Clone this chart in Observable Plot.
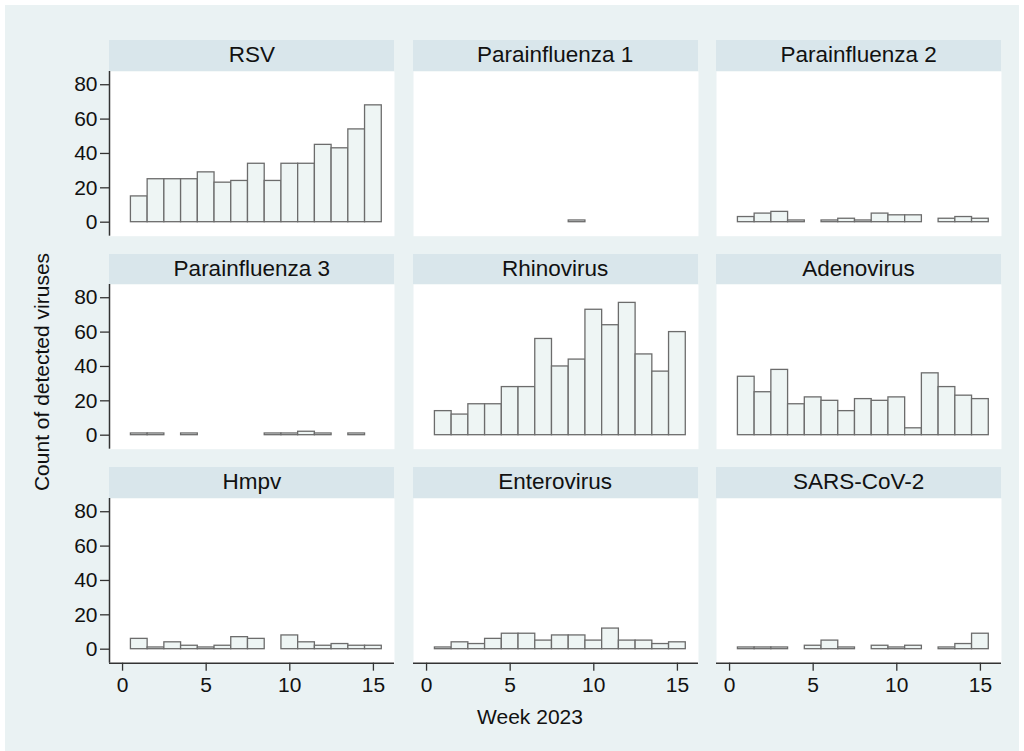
<!DOCTYPE html>
<html>
<head>
<meta charset="utf-8">
<script src="https://cdn.jsdelivr.net/npm/d3@7"></script>
<script src="https://cdn.jsdelivr.net/npm/@observablehq/plot@0.6"></script>
<style>
  html, body { margin: 0; padding: 0; background: #ffffff; }
  #root { position: relative; width: 1024px; height: 751px; overflow: hidden; font-family: "Liberation Sans", Arial, Helvetica, sans-serif; color: #111; }
  #bg { position: absolute; left: 5px; top: 5px; width: 1014px; height: 746px; background: #eaf2f3; }
  .strip { position: absolute; background: #d9e6eb; text-align: center; font-size: 22.5px; color: #111; }
  .panel { position: absolute; }
  .ytitle { position: absolute; font-size: 21px; white-space: nowrap; transform: translate(-50%, -50%) rotate(-90deg); }
  .xtitle { position: absolute; font-size: 21px; white-space: nowrap; transform: translate(-50%, -50%); }
</style>
</head>
<body>
<div id="root"><div id="bg"></div></div>
<script>
// ---- data ----
const weeks = [1,2,3,4,5,6,7,8,9,10,11,12,13,14,15];
const viruses = ["RSV","Parainfluenza 1","Parainfluenza 2","Parainfluenza 3","Rhinovirus","Adenovirus","Hmpv","Enterovirus","SARS-CoV-2"];
const rsv      = [15,25,25,25,29,23,24,34,24,34,34,45,43,54,68];
const para1    = [0,0,0,0,0,0,0,0,1,0,0,0,0,0,0];
const para2    = [3,5,6,1,0,1,2,1,5,4,4,0,2,3,2];
const para3    = [1,1,0,1,0,0,0,0,1,1,2,1,0,1,0];
const rhino    = [14,12,18,18,28,28,56,40,44,73,64,77,47,37,60];
const adeno    = [34,25,38,18,22,20,14,21,20,22,4,36,28,23,21];
const hmpv     = [6,1,4,2,1,2,7,6,0,8,4,2,3,2,2];
const entero   = [1,4,3,6,9,9,5,8,8,5,12,5,5,3,4];
const sars     = [1,1,1,0,2,5,1,0,2,1,2,0,1,3,9];
const series = [rsv, para1, para2, para3, rhino, adeno, hmpv, entero, sars];
const yTicks = [0,20,40,60,80];
const xTicks = [0,5,10,15];
const yTitle = "Count of detected viruses";
const xTitle = "Week 2023";

// ---- layout ----
const root = document.getElementById("root");
const font = '"Liberation Sans", Arial, Helvetica, sans-serif';
const colLeft = [109.3, 412.7, 716.1];
const rowTop = [40.3, 253.6, 466.9];
const plotW = 285, plotH = 164.7, stripH = 30.7;
const xDom = [-0.78, 16.26];
const yDom = [-8.15, 87.7];
const mL = 70, mR = 6, mB = 50;

viruses.forEach((name, i) => {
  const r = Math.floor(i / 3), c = i % 3;
  const left = colLeft[c], top = rowTop[r];
  const strip = document.createElement("div");
  strip.className = "strip";
  strip.style.left = left + "px";
  strip.style.top = top + "px";
  strip.style.width = plotW + "px";
  strip.style.height = stripH + "px";
  strip.style.lineHeight = (stripH - 1) + "px";
  strip.textContent = name;
  root.appendChild(strip);

  const data = weeks.map((w, k) => ({week: w, count: series[i][k]})).filter(d => d.count > 0);
  const showY = c === 0, showX = r === 2;
  const marks = [
    Plot.frame({fill: "white", stroke: "none"}),
    Plot.rect(data, {x1: d => d.week - 0.5, x2: d => d.week + 0.5, y1: 0, y2: "count",
      fill: "#eef5f4", stroke: "#6c6c6c", strokeWidth: 1.3})
  ];
  if (showY) {
    marks.push(Plot.axisY(yTicks, {tickSize: 9, tickPadding: 3, fontSize: 21, label: null, stroke: "#333", strokeWidth: 1.3}));
    marks.push(Plot.ruleX([xDom[0]], {stroke: "#333", strokeWidth: 1.5}));
  }
  if (showX) {
    marks.push(Plot.axisX(xTicks, {tickSize: 8, tickPadding: 6, fontSize: 21, label: null, stroke: "#333", strokeWidth: 1.3}));
    marks.push(Plot.ruleY([yDom[0]], {stroke: "#333", strokeWidth: 1.5}));
  }
  const svg = Plot.plot({
    width: plotW + mL + mR,
    height: plotH + mB,
    marginLeft: mL, marginRight: mR, marginTop: 0, marginBottom: mB,
    x: {domain: xDom, axis: null},
    y: {domain: yDom, axis: null},
    style: {background: "transparent", fontFamily: font, fontSize: "21px", color: "#111", overflow: "visible"},
    marks
  });
  svg.classList.add("panel");
  svg.style.left = (left - mL) + "px";
  svg.style.top = (top + stripH) + "px";
  svg.style.position = "absolute";
  root.appendChild(svg);
});

const yt = document.createElement("div");
yt.className = "ytitle";
yt.style.left = "42px"; yt.style.top = "372px";
yt.textContent = yTitle;
root.appendChild(yt);

const xt = document.createElement("div");
xt.className = "xtitle";
xt.style.left = "530px"; xt.style.top = "717px";
xt.textContent = xTitle;
root.appendChild(xt);
</script>
</body>
</html>
